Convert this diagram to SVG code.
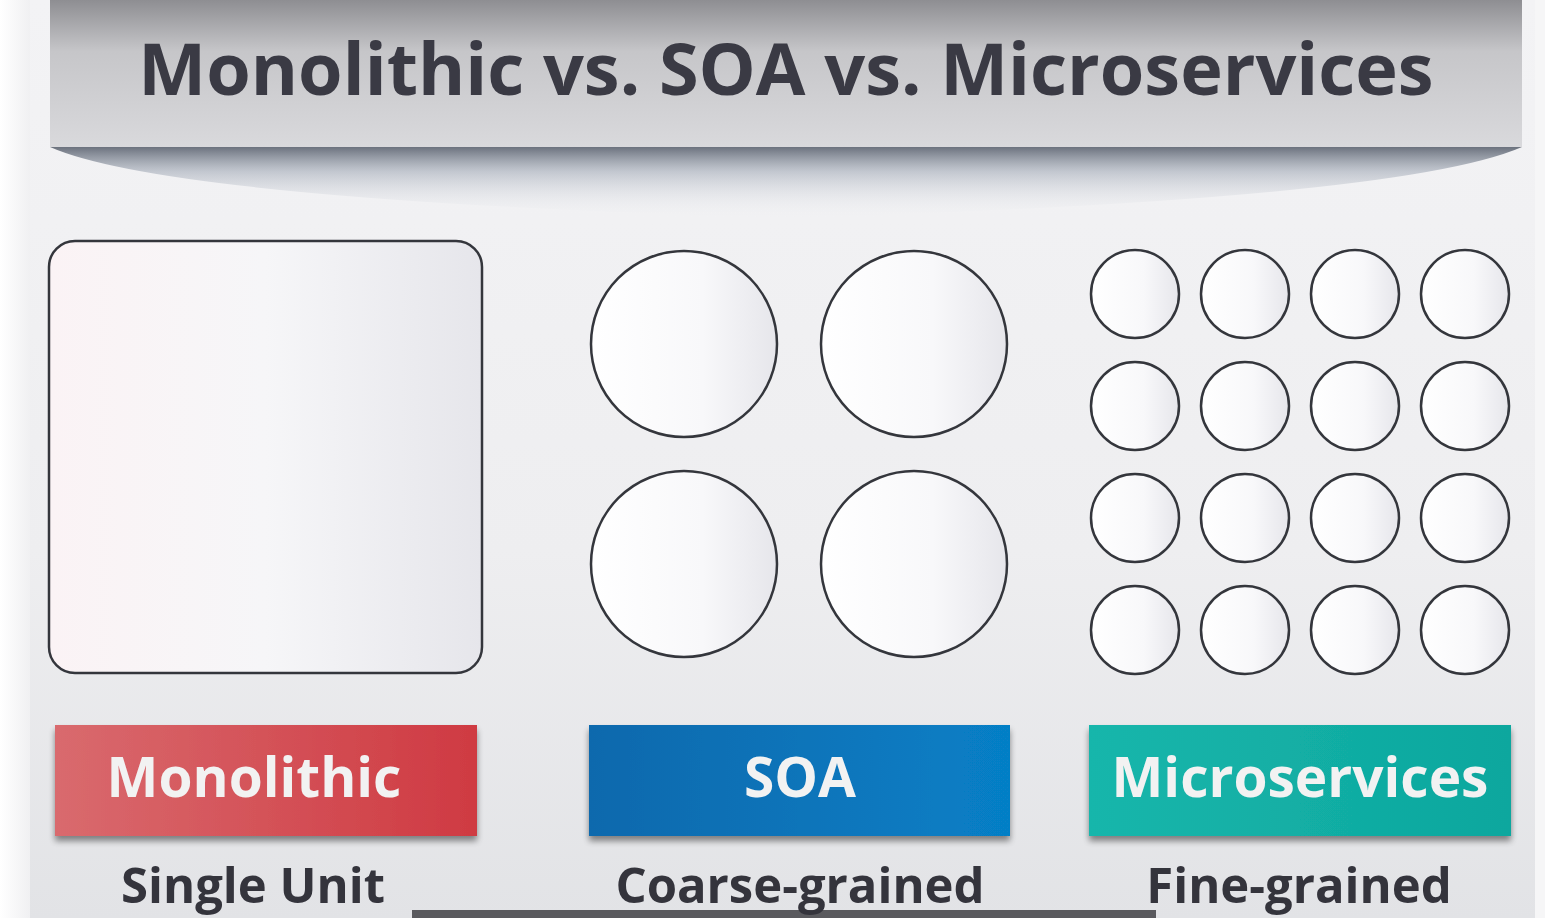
<svg xmlns="http://www.w3.org/2000/svg" width="1545" height="918" viewBox="0 0 1545 918">
<defs>
<linearGradient id="bg" x1="0" y1="0" x2="0" y2="1">
<stop offset="0" stop-color="#f3f3f5"/><stop offset="0.6" stop-color="#eeeef0"/><stop offset="1" stop-color="#e2e3e6"/>
</linearGradient>
<linearGradient id="edge" x1="0" y1="0" x2="1" y2="0">
<stop offset="0" stop-color="#ffffff"/><stop offset="1" stop-color="#f0f0f2"/>
</linearGradient>
<linearGradient id="titlebar" x1="0" y1="0" x2="0" y2="1">
<stop offset="0" stop-color="#8e8e92"/><stop offset="0.35" stop-color="#c6c6c9"/><stop offset="1" stop-color="#d9d9dc"/>
</linearGradient>
<linearGradient id="tshadow" x1="0" y1="0" x2="0" y2="1">
<stop offset="0" stop-color="#4a5260" stop-opacity="0.8"/><stop offset="0.35" stop-color="#8b95a5" stop-opacity="0.45"/><stop offset="1" stop-color="#f0f2f5" stop-opacity="0"/>
</linearGradient>
<linearGradient id="shapefill" x1="0" y1="0" x2="1" y2="0">
<stop offset="0" stop-color="#ffffff"/><stop offset="0.6" stop-color="#f8f8fa"/><stop offset="1" stop-color="#e6e6eb"/>
</linearGradient>
<linearGradient id="monofill" x1="0" y1="0" x2="1" y2="0">
<stop offset="0" stop-color="#fbf3f5"/><stop offset="0.5" stop-color="#f6f6f8"/><stop offset="1" stop-color="#e6e6eb"/>
</linearGradient>
<linearGradient id="red" x1="0" y1="0" x2="1" y2="0">
<stop offset="0" stop-color="#d96a6e"/><stop offset="1" stop-color="#cf3a42"/>
</linearGradient>
<linearGradient id="blue" x1="0" y1="0" x2="1" y2="0">
<stop offset="0" stop-color="#0f69ad"/><stop offset="1" stop-color="#067fc6"/>
</linearGradient>
<linearGradient id="teal" x1="0" y1="0" x2="1" y2="0">
<stop offset="0" stop-color="#16b6ab"/><stop offset="1" stop-color="#0ea79e"/>
</linearGradient>
<filter id="drop" x="-5%" y="-20%" width="110%" height="150%">
<feGaussianBlur in="SourceAlpha" stdDeviation="3"/>
<feOffset dx="0" dy="5"/>
<feComponentTransfer><feFuncA type="linear" slope="0.45"/></feComponentTransfer>
<feMerge><feMergeNode/><feMergeNode in="SourceGraphic"/></feMerge>
</filter>
</defs>
<style>
.title{font-family:"Open Sans","Liberation Sans",sans-serif;font-weight:bold;font-size:72px;fill:#3a3a44;text-anchor:middle}
.lbl{font-family:"Open Sans","Liberation Sans",sans-serif;font-weight:bold;font-size:55px;fill:#f2f2f2;text-anchor:middle}
.sub{font-family:"Open Sans","Liberation Sans",sans-serif;font-weight:bold;font-size:49px;fill:#34343c;text-anchor:middle}
.shape{stroke:#34363c;stroke-width:2.5}
</style>
<rect x="0" y="0" width="1545" height="918" fill="url(#bg)"/>
<rect x="0" y="0" width="30" height="918" fill="url(#edge)"/>
<rect x="1535" y="0" width="10" height="918" fill="#f6f6f7"/>
<g id="title">
<path d="M50 147 L1522 147 Q1400 200 786 218 Q170 200 50 147 Z" fill="url(#tshadow)"/>
<rect x="50" y="0" width="1472" height="147" fill="url(#titlebar)"/>
<text class="title" x="786" y="95">Monolithic vs. SOA vs. Microservices</text>
</g>
<g id="monolithic-unit">
<rect class="shape" x="49" y="241" width="433" height="432" rx="26" fill="url(#monofill)"/>
</g>
<g id="soa-services">
<circle class="shape" cx="684" cy="344" r="93" fill="url(#shapefill)"/>
<circle class="shape" cx="914" cy="344" r="93" fill="url(#shapefill)"/>
<circle class="shape" cx="684" cy="564" r="93" fill="url(#shapefill)"/>
<circle class="shape" cx="914" cy="564" r="93" fill="url(#shapefill)"/>
</g>
<g id="microservices">
<circle class="shape" cx="1135" cy="294" r="44" fill="url(#shapefill)"/>
<circle class="shape" cx="1245" cy="294" r="44" fill="url(#shapefill)"/>
<circle class="shape" cx="1355" cy="294" r="44" fill="url(#shapefill)"/>
<circle class="shape" cx="1465" cy="294" r="44" fill="url(#shapefill)"/>
<circle class="shape" cx="1135" cy="406" r="44" fill="url(#shapefill)"/>
<circle class="shape" cx="1245" cy="406" r="44" fill="url(#shapefill)"/>
<circle class="shape" cx="1355" cy="406" r="44" fill="url(#shapefill)"/>
<circle class="shape" cx="1465" cy="406" r="44" fill="url(#shapefill)"/>
<circle class="shape" cx="1135" cy="518" r="44" fill="url(#shapefill)"/>
<circle class="shape" cx="1245" cy="518" r="44" fill="url(#shapefill)"/>
<circle class="shape" cx="1355" cy="518" r="44" fill="url(#shapefill)"/>
<circle class="shape" cx="1465" cy="518" r="44" fill="url(#shapefill)"/>
<circle class="shape" cx="1135" cy="630" r="44" fill="url(#shapefill)"/>
<circle class="shape" cx="1245" cy="630" r="44" fill="url(#shapefill)"/>
<circle class="shape" cx="1355" cy="630" r="44" fill="url(#shapefill)"/>
<circle class="shape" cx="1465" cy="630" r="44" fill="url(#shapefill)"/>
</g>
<g id="label-monolithic">
<rect x="55" y="725" width="422" height="111" fill="url(#red)" filter="url(#drop)"/>
<text class="lbl" x="254" y="797">Monolithic</text>
</g>
<g id="label-soa">
<rect x="589" y="725" width="421" height="111" fill="url(#blue)" filter="url(#drop)"/>
<text class="lbl" x="800" y="797">SOA</text>
</g>
<g id="label-microservices">
<rect x="1089" y="725" width="422" height="111" fill="url(#teal)" filter="url(#drop)"/>
<text class="lbl" x="1300" y="797">Microservices</text>
</g>
<rect x="412" y="910" width="744" height="8" fill="#5a5a5e"/>
<g id="sub-monolithic"><text class="sub" x="253" y="903">Single Unit</text></g>
<g id="sub-soa"><text class="sub" x="800" y="903">Coarse-grained</text></g>
<g id="sub-microservices"><text class="sub" x="1299" y="903">Fine-grained</text></g>
<g id="connectors"></g>
</svg>
